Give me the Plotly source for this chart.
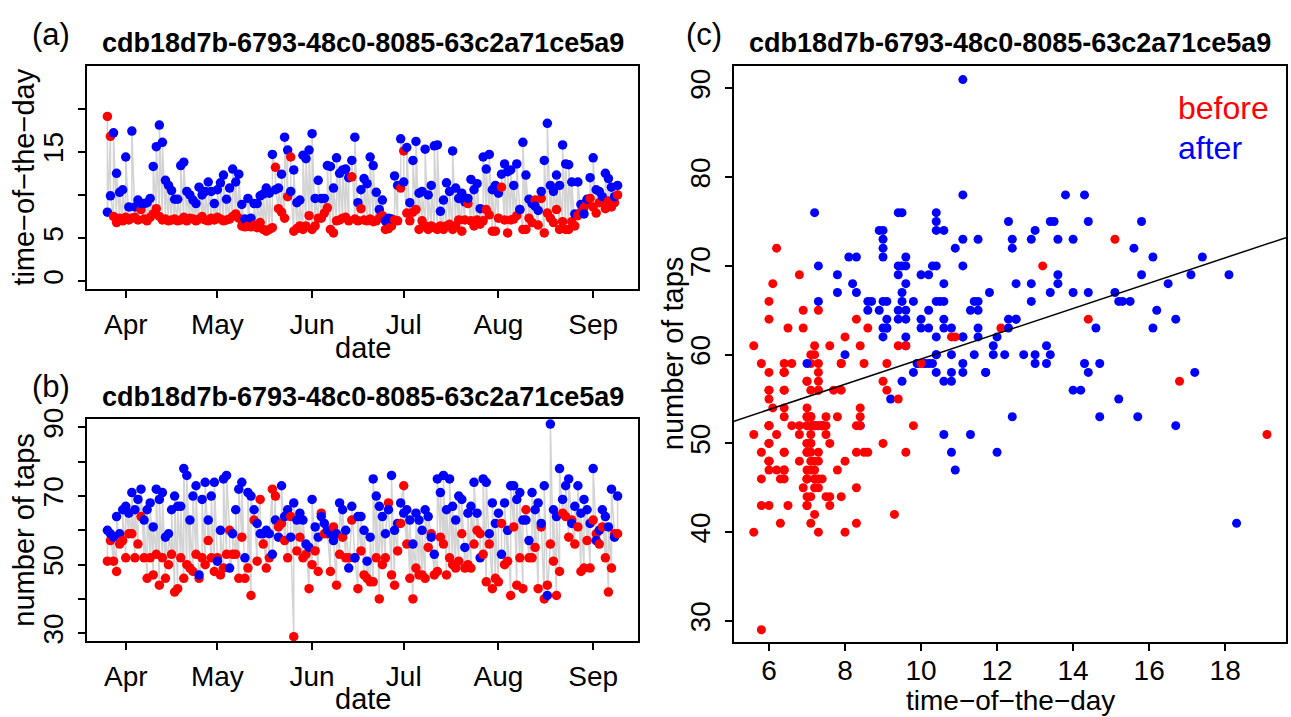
import pandas as pd
import plotly.graph_objects as go

# ---------------- data ----------------
subject_id = "cdb18d7b-6793-48c0-8085-63c2a71ce5a9"
start_date = "2015-03-26"   # first observed day
n_days = 168                # last observed day: 2015-09-09

# time-of-the-day (hours), "before" measurement (red)
time_before = [
    19.1, 16.8, 7.5, 6.8, 7.3, 7.0, 7.4, 7.1, 7.3, 7.4,
    7.1, 8.3, 7.2, 7.0, 7.4, 7.8, 8.4, 7.5, 7.1, 7.2,
    7.0, 7.1, 7.2, 7.0, 7.1, 7.4, 7.0, 7.3, 7.2, 7.0,
    7.2, 7.5, 7.1, 7.0, 7.3, 7.1, 7.4, 7.2, 7.0, 7.1,
    7.2, 7.5, 7.8, 7.3, 6.4, 6.3, 6.4, 6.3, 6.5, 6.2,
    6.8, 6.0, 5.8, 6.0, 6.2, 13.2, 8.4, 8.0, 7.3, 9.8,
    14.4, 5.8, 6.1, 6.4, 6.0, 6.4, 7.6, 6.0, 6.4, 7.3,
    7.3, 7.9, 8.5, 6.0, 5.6, 7.0, 7.1, 7.3, 7.4, 7.0,
    12.1, 7.2, 7.0, 8.4, 7.1, 7.0, 7.2, 6.9, 7.0, 7.3,
    7.6, 6.0, 6.1, 6.4, 7.1, 7.0, 10.8, 15.1, 7.9, 7.0,
    8.0, 8.3, 6.0, 7.0, 6.4, 6.0, 6.4, 6.2, 6.0, 6.4,
    6.0, 6.4, 6.6, 6.0, 6.4, 7.1, 5.8, 7.1, 9.0, 7.0,
    6.4, 7.1, 6.6, 7.0, 8.3, 7.7, 5.8, 5.8, 7.3, 10.9,
    7.1, 5.6, 7.1, 7.2, 7.6, 8.3, 6.0, 6.0, 7.3, 6.8,
    9.4, 6.5, 9.6, 5.6, 7.9, 7.3, 6.8, 8.3, 6.0, 6.9,
    6.0, 6.0, 6.9, 6.4, 7.6, 8.0, 8.5, 9.0, 9.6, 8.6,
    7.9, 9.1, 9.4, 8.4, 9.3, 8.6, 9.1, 10.0,
]

# time-of-the-day (hours), "after" measurement (blue)
time_after = [
    8.0, 9.9, 17.2, 12.5, 10.3, 10.6, 14.4, 8.6, 17.4, 8.6,
    9.4, 9.0, 9.0, 9.1, 9.6, 13.3, 15.6, 18.1, 16.1, 11.7,
    11.1, 10.5, 9.5, 9.5, 13.4, 13.8, 10.4, 10.0, 9.4, 9.0,
    10.9, 10.0, 10.4, 11.5, 10.4, 9.0, 10.6, 11.4, 12.3, 9.5,
    10.8, 13.0, 11.5, 12.4, 8.9, 7.2, 9.6, 7.3, 9.0, 9.0,
    9.9, 10.1, 10.8, 10.2, 14.7, 10.6, 10.8, 12.4, 16.7, 15.2,
    10.4, 12.9, 9.1, 9.4, 14.6, 14.2, 15.2, 17.1, 9.6, 11.7,
    9.6, 9.6, 13.4, 13.3, 10.8, 14.3, 12.5, 12.9, 13.0, 12.0,
    14.0, 16.7, 9.1, 10.6, 11.9, 11.3, 14.4, 13.4, 10.3, 8.3,
    9.4, 7.0, 7.3, 7.2, 12.2, 11.1, 16.5, 11.5, 15.5, 9.1,
    14.0, 16.2, 10.2, 10.4, 15.3, 10.0, 11.1, 15.7, 15.8, 8.1,
    9.4, 11.4, 10.4, 15.1, 10.8, 9.6, 10.2, 9.2, 9.6, 11.8,
    10.6, 11.3, 8.4, 14.4, 13.0, 14.7, 10.6, 11.1, 10.2, 12.4,
    13.6, 12.7, 12.9, 11.1, 13.6, 8.3, 16.1, 12.3, 9.5, 9.0,
    8.7, 8.2, 10.4, 14.0, 18.3, 11.1, 10.4, 12.3, 11.1, 15.8,
    13.6, 13.5, 11.5, 7.8, 11.5, 8.9, 7.8, 9.5, 12.0, 14.3,
    10.6, 10.4, 9.8, 12.5, 11.9, 10.9, 9.8, 11.1,
]

# number of taps, "before" (red)
taps_before = [
    51, 57, 51, 48, 56, 57, 52, 59, 59, 52,
    56, 64, 52, 46, 52, 47, 53, 44, 52, 46,
    50, 53, 42, 43, 52, 46, 50, 49, 48, 53,
    46, 52, 50, 57, 52, 48, 52, 47, 49, 53,
    60, 53, 53, 46, 58, 46, 49, 41, 63, 51,
    69, 56, 49, 52, 72, 70, 61, 62, 57, 52,
    64, 29, 54, 58, 52, 53, 43, 50, 54, 48,
    65, 59, 59, 48, 61, 44, 53, 58, 52, 52,
    63, 52, 43, 54, 47, 46, 45, 45, 52, 40,
    50, 52, 68, 47, 44, 54, 62, 73, 56, 46,
    40, 49, 47, 47, 46, 55, 59, 47, 48, 58,
    56, 47, 52, 50, 49, 51, 59, 49, 50, 49,
    56, 60, 59, 53, 45, 56, 43, 46, 45, 62,
    50, 51, 41, 61, 44, 52, 43, 66, 52, 52,
    55, 43, 61, 40, 44, 56, 51, 41, 48, 65,
    64, 58, 63, 56, 61, 48, 49, 57, 49, 63,
    59, 56, 61, 52, 42, 49, 59, 59,
]

# number of taps, "after" (blue)
taps_after = [
    60, 59, 58, 64, 59, 66, 67, 65, 71, 66,
    69, 72, 63, 66, 68, 61, 72, 69, 71, 58,
    59, 66, 70, 67, 67, 78, 76, 63, 70, 73,
    47, 69, 74, 63, 70, 74, 51, 60, 75, 76,
    49, 59, 66, 72, 74, 52, 71, 70, 66, 62,
    59, 59, 60, 59, 53, 63, 58, 73, 64, 66,
    58, 68, 63, 65, 63, 56, 55, 69, 61, 58,
    64, 62, 60, 59, 57, 59, 68, 66, 60, 49,
    67, 52, 64, 64, 60, 51, 58, 75, 70, 67,
    64, 59, 66, 76, 60, 62, 68, 65, 66, 63,
    56, 65, 63, 60, 66, 64, 58, 53, 75, 71,
    76, 66, 75, 67, 63, 70, 69, 55, 65, 67,
    74, 65, 52, 75, 74, 59, 68, 62, 65, 53,
    68, 60, 73, 73, 69, 71, 63, 63, 57, 71,
    66, 68, 62, 73, 41, 91, 66, 64, 78, 69,
    73, 75, 62, 67, 73, 65, 69, 66, 62, 78,
    57, 60, 66, 64, 61, 72, 58, 70,
]

# least-squares line drawn in panel (c): taps = intercept + slope * time
fit_intercept = 45.26
fit_slope = 1.425

month_ticks = ["2015-04-01", "2015-05-01", "2015-06-01", "2015-07-01", "2015-08-01", "2015-09-01"]
month_labels = ["Apr", "May", "Jun", "Jul", "Aug", "Sep"]
time_ticks_a = [0, 5, 10, 15, 20]
time_labels_a = ["0", "5", "", "15", ""]
taps_ticks_b = [30, 40, 50, 60, 70, 80, 90]
taps_labels_b = ["30", "", "50", "", "70", "", "90"]
hour_ticks_c = [6, 8, 10, 12, 14, 16, 18]
taps_ticks_c = [30, 40, 50, 60, 70, 80, 90]

# ---------------- figure ----------------
W, H = 1291, 717
FONT = "Liberation Sans, Arial, Helvetica, sans-serif"
RED, BLUE, GREY = "#FF0000", "#0000FF", "#D3D3D3"

dates = pd.date_range(start_date, periods=n_days, freq="D")
x_pairs = [d for d in dates for _ in range(2)]
time_pairs = [v for pair in zip(time_before, time_after) for v in pair]
taps_pairs = [v for pair in zip(taps_before, taps_after) for v in pair]
pair_colors = [RED, BLUE] * n_days

span = dates[-1] - dates[0]
date_range = [dates[0] - 0.04 * span, dates[-1] + 0.04 * span]


def px_x(x):
    return x / W


def px_y(y):
    return 1 - y / H


fig = go.Figure()

# panel (a)
fig.add_trace(go.Scatter(
    x=x_pairs, y=time_pairs, mode="lines+markers",
    line=dict(color=GREY, width=1.5),
    marker=dict(color=pair_colors, size=9.5, line=dict(width=0)),
    xaxis="x", yaxis="y", showlegend=False, hoverinfo="skip"))

# panel (b)
fig.add_trace(go.Scatter(
    x=x_pairs, y=taps_pairs, mode="lines+markers",
    line=dict(color=GREY, width=1.5),
    marker=dict(color=pair_colors, size=9.5, line=dict(width=0)),
    xaxis="x2", yaxis="y2", showlegend=False, hoverinfo="skip"))

# panel (c)
xr_c = [5.08, 19.6]
fig.add_trace(go.Scatter(
    x=time_pairs, y=taps_pairs, mode="markers",
    marker=dict(color=pair_colors, size=9, line=dict(width=0)),
    xaxis="x3", yaxis="y3", showlegend=False, hoverinfo="skip"))
fig.add_trace(go.Scatter(
    x=xr_c, y=[fit_intercept + fit_slope * v for v in xr_c], mode="lines",
    line=dict(color="black", width=1.5),
    xaxis="x3", yaxis="y3", showlegend=False, hoverinfo="skip"))

axis_common = dict(
    showline=True, linecolor="black", linewidth=1.5, mirror=True,
    ticks="outside", ticklen=7, tickwidth=1.5, tickcolor="black",
    showgrid=False, zeroline=False,
    tickfont=dict(size=28, family=FONT, color="black"),
)

dom_x_left = [px_x(87), px_x(638)]
dom_x_c = [px_x(734), px_x(1286)]

fig.update_layout(
    width=W, height=H, autosize=False,
    margin=dict(l=0, r=0, t=0, b=0),
    paper_bgcolor="white", plot_bgcolor="white",
    font=dict(family=FONT, color="black"),
    xaxis=dict(axis_common, domain=dom_x_left, anchor="y", type="date",
               range=date_range, tickmode="array", tickvals=month_ticks,
               ticktext=month_labels, ticklabelstandoff=2),
    yaxis=dict(axis_common, domain=[px_y(284), px_y(56)], anchor="x",
               range=[-0.96, 24.96], tickmode="array", tickvals=time_ticks_a,
               ticktext=time_labels_a, tickangle=-90, ticklabelstandoff=4),
    xaxis2=dict(axis_common, domain=dom_x_left, anchor="y2", type="date",
                range=date_range, tickmode="array", tickvals=month_ticks,
                ticktext=month_labels, ticklabelstandoff=2),
    yaxis2=dict(axis_common, domain=[px_y(643), px_y(416)], anchor="x2",
                range=[27.6, 92.5], tickmode="array", tickvals=taps_ticks_b,
                ticktext=taps_labels_b, tickangle=-90, ticklabelstandoff=4),
    xaxis3=dict(axis_common, domain=dom_x_c, anchor="y3",
                range=xr_c, tickmode="array", tickvals=hour_ticks_c,
                ticklabelstandoff=-5),
    yaxis3=dict(axis_common, domain=[px_y(644), px_y(56)], anchor="x3",
                range=[27.57, 92.54], tickmode="array", tickvals=taps_ticks_c,
                tickangle=-90, ticklabelstandoff=4),
)


def add_text(text, x, y, size=29, bold=False, color="black", angle=0, xanchor="center"):
    fig.add_annotation(
        text=f"<b>{text}</b>" if bold else text,
        x=px_x(x), y=px_y(y), xref="paper", yref="paper",
        showarrow=False, textangle=angle, xanchor=xanchor, yanchor="middle",
        font=dict(size=size, family=FONT, color=color))


# panel letters and titles
add_text("(a)", 51, 24, size=31)
add_text(subject_id, 362.5, 33, size=27, bold=True)
add_text("(b)", 51, 383, size=31)
add_text(subject_id, 362.5, 394, size=27, bold=True)
add_text("(c)", 704, 24, size=31)
add_text(subject_id, 1010, 33, size=27, bold=True)

# axis titles
add_text("date", 362.5, 344)
add_text("date", 362.5, 702)
add_text("time\u2212of\u2212the\u2212day", 24, 170, angle=-90)
add_text("number of taps", 24, 530, angle=-90)
add_text("number of taps", 673, 350, angle=-90)
add_text("time\u2212of\u2212the\u2212day", 1010, 703, size=28)

# legend text in panel (c)
add_text("before", 1176, 99, size=32, color=RED, xanchor="left")
add_text("after", 1176, 140, size=32, color=BLUE, xanchor="left")

fig.write_html("out.html")
